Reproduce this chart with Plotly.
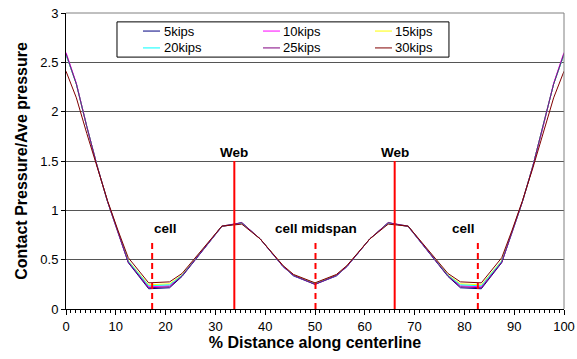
import plotly.graph_objects as go

# Measurement stations along the centreline (% of width)
pos = [0, 2.08, 4.17, 6.25, 8.33, 10.42, 12.5, 16.6, 20.8, 23.3, 31.3, 35.3, 39.0,
       43.6, 45.7, 50, 54.3, 56.4, 61.0, 64.7, 68.7, 76.7, 79.2, 83.4, 87.5,
       89.58, 91.67, 93.75, 95.83, 97.92, 100]

# Normalised contact pressure for each load level
p5 = [2.58, 2.28, 1.85, 1.45, 1.09, 0.78, 0.47, 0.205, 0.215, 0.33, 0.835, 0.875, 0.71,
      0.43, 0.335, 0.25, 0.335, 0.43, 0.71, 0.875, 0.835, 0.33, 0.215, 0.205, 0.47,
      0.78, 1.09, 1.45, 1.85, 2.28, 2.58]
p10 = [2.60, 2.29, 1.85, 1.45, 1.09, 0.78, 0.48, 0.225, 0.235, 0.34, 0.84, 0.87, 0.71,
       0.43, 0.34, 0.255, 0.34, 0.43, 0.71, 0.87, 0.84, 0.34, 0.235, 0.225, 0.48,
       0.78, 1.09, 1.45, 1.85, 2.29, 2.60]
p15 = [2.58, 2.28, 1.85, 1.45, 1.09, 0.785, 0.49, 0.245, 0.255, 0.345, 0.84, 0.87, 0.71,
       0.435, 0.345, 0.26, 0.345, 0.435, 0.71, 0.87, 0.84, 0.345, 0.255, 0.245, 0.49,
       0.785, 1.09, 1.45, 1.85, 2.28, 2.58]
p20 = [2.58, 2.28, 1.85, 1.45, 1.09, 0.78, 0.485, 0.235, 0.245, 0.34, 0.84, 0.87, 0.71,
       0.43, 0.34, 0.255, 0.34, 0.43, 0.71, 0.87, 0.84, 0.34, 0.245, 0.235, 0.485,
       0.78, 1.09, 1.45, 1.85, 2.28, 2.58]
p25 = [2.59, 2.28, 1.85, 1.45, 1.09, 0.78, 0.475, 0.215, 0.225, 0.335, 0.84, 0.875, 0.71,
       0.43, 0.34, 0.25, 0.34, 0.43, 0.71, 0.875, 0.84, 0.335, 0.225, 0.215, 0.475,
       0.78, 1.09, 1.45, 1.85, 2.28, 2.59]
p30 = [2.41, 2.14, 1.78, 1.43, 1.10, 0.80, 0.52, 0.265, 0.275, 0.36, 0.84, 0.86, 0.71,
       0.44, 0.35, 0.265, 0.35, 0.44, 0.71, 0.86, 0.84, 0.36, 0.275, 0.265, 0.52,
       0.80, 1.10, 1.43, 1.78, 2.14, 2.41]

series_names = ["5kips", "10kips", "15kips", "20kips", "25kips", "30kips"]
series_vals = [p5, p10, p15, p20, p25, p30]
series_colors = ["#000080", "#FF00FF", "#FFFF00", "#00FFFF", "#800080", "#800000"]

# Structural reference positions
web_x = [33.8, 66.0]
cell_x = [17.3, 50.1, 82.7]
web_top = 1.5
cell_top = 0.67

web_labels = ["Web", "Web"]
cell_labels = ["cell", "cell midspan", "cell"]
cell_label_x = [19.9, 50.3, 79.8]
label_y_web = 1.59
label_y_cell = 0.82

FONT = "Liberation Sans, Arial, sans-serif"

fig = go.Figure()
for name, vals, col in zip(series_names, series_vals, series_colors):
    fig.add_trace(go.Scatter(x=pos, y=vals, mode="lines", name=name,
                             line=dict(color=col, width=1), showlegend=False))

shapes = []
for wx in web_x:
    shapes.append(dict(type="line", xref="x", yref="y", x0=wx, x1=wx, y0=0, y1=web_top,
                       line=dict(color="#FF0000", width=2)))
for cx in cell_x:
    shapes.append(dict(type="line", xref="x", yref="y", x0=cx, x1=cx, y0=0, y1=cell_top,
                       line=dict(color="#FF0000", width=2, dash="6px,4px")))
# plot frame: grey top and right edges
shapes.append(dict(type="line", xref="paper", yref="paper", x0=0, x1=1, y0=1, y1=1,
                   line=dict(color="#808080", width=1)))
shapes.append(dict(type="line", xref="paper", yref="paper", x0=1, x1=1, y0=0, y1=1,
                   line=dict(color="#808080", width=1)))

annotations = []
for wx, lab in zip(web_x, web_labels):
    annotations.append(dict(x=wx, y=label_y_web, xref="x", yref="y", text=f"<b>{lab}</b>",
                            showarrow=False, font=dict(family=FONT, size=13.5, color="black"),
                            xanchor="center", yanchor="middle"))
for lx, lab in zip(cell_label_x, cell_labels):
    annotations.append(dict(x=lx, y=label_y_cell, xref="x", yref="y", text=f"<b>{lab}</b>",
                            showarrow=False, font=dict(family=FONT, size=13.5, color="black"),
                            xanchor="center", yanchor="middle"))

# Legend box laid out in three columns, two rows
shapes.append(dict(type="rect", xref="paper", yref="paper", x0=0.1024, x1=0.769,
                   y0=0.851, y1=0.970, line=dict(color="black", width=1),
                   fillcolor="white", layer="above"))
col_line_x = [(0.1546, 0.1888), (0.3956, 0.4297), (0.6205, 0.6546)]
row_y = [0.939, 0.882]
for i, (name, col) in enumerate(zip(series_names, series_colors)):
    r, c = divmod(i, 3)
    lx0, lx1 = col_line_x[c]
    shapes.append(dict(type="line", xref="paper", yref="paper", x0=lx0, x1=lx1,
                       y0=row_y[r], y1=row_y[r], line=dict(color=col, width=1),
                       layer="above"))
    annotations.append(dict(x=lx1 + 0.003, y=row_y[r], xref="paper", yref="paper",
                            text=name, showarrow=False, xanchor="left", yanchor="middle",
                            font=dict(family=FONT, size=13, color="black")))

fig.update_layout(
    width=577, height=359,
    margin=dict(l=66, r=13, t=13, b=50, autoexpand=False),
    paper_bgcolor="white", plot_bgcolor="white",
    font=dict(family=FONT, size=13, color="black"),
    shapes=shapes, annotations=annotations,
    xaxis=dict(range=[0, 100], tickvals=list(range(0, 101, 10)), showgrid=False,
               automargin=False,
               zeroline=False, showline=True, linecolor="black", linewidth=1,
               ticks="outside", ticklen=5, tickcolor="black",
               minor=dict(ticks="outside", ticklen=3, dtick=1, tickcolor="black",
                          showgrid=False),
               tickfont=dict(family=FONT, size=13),
               title=dict(text="<b>% Distance along centerline</b>",
                          font=dict(family=FONT, size=16), standoff=4)),
    yaxis=dict(range=[0, 3], tickvals=[0, 0.5, 1, 1.5, 2, 2.5, 3],
               ticktext=["0", "0.5", "1", "1.5", "2", "2.5", "3"],
               automargin=False,
               showgrid=True, gridcolor="#555555", gridwidth=1, zeroline=False,
               showline=True, linecolor="black", linewidth=1,
               ticks="outside", ticklen=4, tickcolor="black",
               tickfont=dict(family=FONT, size=13),
               title=dict(text="<b>Contact Pressure/Ave pressure</b>",
                          font=dict(family=FONT, size=16), standoff=8)),
)

fig.write_html("out.html")
